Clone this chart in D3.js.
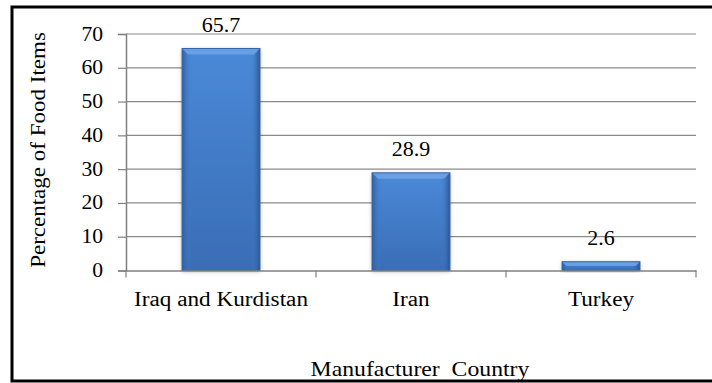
<!DOCTYPE html>
<html>
<head>
<meta charset="utf-8">
<script src="https://cdn.jsdelivr.net/npm/d3@7/dist/d3.min.js"></script>
<style>
  html, body { margin: 0; padding: 0; background: #fff; }
  svg { display: block; }
  svg text { font-family: "Liberation Serif", "Times New Roman", serif !important; fill: #000; }
</style>
</head>
<body>
<svg id="chart" width="712" height="383"></svg>
<script>
// Share of food items by manufacturer country
const categories = ["Iraq and Kurdistan", "Iran", "Turkey"];
const values = [65.7, 28.9, 2.6];
const yTicks = [0, 10, 20, 30, 40, 50, 60, 70];
const yTitle = "Percentage of Food Items";
const xTitle = "Manufacturer  Country";

const svg = d3.select("#chart");
const W = 712;
const plot = { left: 126, right: 696, top: 34, bottom: 270.5 };
const stretch = 1.16;   // slightly wide lettering

const x = d3.scaleBand().domain(categories).range([plot.left, plot.right]).paddingInner(0.59).paddingOuter(0.295);
const y = d3.scaleLinear().domain([0, 70]).range([plot.bottom, plot.top]);

function widen(sel, k) {
  sel.each(function () {
    const len = this.getComputedTextLength();
    d3.select(this).attr("textLength", len * k).attr("lengthAdjust", "spacingAndGlyphs");
  });
}

// frame
svg.append("rect").attr("x", 12).attr("y", 7).attr("width", W + 10).attr("height", 374)
  .attr("fill", "#fff").attr("stroke", "#000").attr("stroke-width", 3);

const defs = svg.append("defs");
const grad = defs.append("linearGradient").attr("id", "barFill").attr("x1", 0).attr("x2", 0).attr("y1", 0).attr("y2", 1);
grad.append("stop").attr("offset", "0%").attr("stop-color", "#4a89d8");
grad.append("stop").attr("offset", "100%").attr("stop-color", "#3a6db5");
const side = defs.append("linearGradient").attr("id", "barSide").attr("x1", 0).attr("x2", 1);
side.append("stop").attr("offset", "0%").attr("stop-color", "#2f5e9e");
side.append("stop").attr("offset", "12%").attr("stop-color", "#4582cf").attr("stop-opacity", 0);
side.append("stop").attr("offset", "88%").attr("stop-color", "#4582cf").attr("stop-opacity", 0);
side.append("stop").attr("offset", "100%").attr("stop-color", "#2a5593");
const shadow = defs.append("filter").attr("id", "shadow").attr("x", "-20%").attr("y", "-20%").attr("width", "140%").attr("height", "140%");
shadow.append("feDropShadow").attr("dx", 0).attr("dy", 1).attr("stdDeviation", 2).attr("flood-color", "#000").attr("flood-opacity", 0.3);

// gridlines
svg.append("g").selectAll("line").data(yTicks.filter(d => d > 0)).join("line")
  .attr("x1", plot.left).attr("x2", plot.right)
  .attr("y1", d => y(d)).attr("y2", d => y(d))
  .attr("stroke", "#8a8a8a").attr("stroke-width", 1.2);

// y axis
const yAxis = svg.append("g").attr("transform", `translate(${plot.left},0)`)
  .call(d3.axisLeft(y).tickValues(yTicks).tickSize(8).tickPadding(15));
yAxis.select(".domain").attr("stroke", "#808080").attr("stroke-width", 1.5);
yAxis.selectAll(".tick line").attr("stroke", "#808080").attr("stroke-width", 1.2);
yAxis.selectAll(".tick text").attr("font-size", 20).attr("dy", "0.3em").call(widen, 1.08);

// bars
const bars = svg.append("g");
categories.forEach((c, i) => {
  const bx = x(c), bw = x.bandwidth(), by = y(values[i]), bh = y(0) - y(values[i]);
  const g = bars.append("g");
  g.append("rect").attr("x", bx).attr("y", by).attr("width", bw).attr("height", bh)
    .attr("fill", "url(#barFill)").attr("filter", "url(#shadow)");
  g.append("rect").attr("x", bx).attr("y", by).attr("width", bw).attr("height", bh)
    .attr("fill", "url(#barSide)");
  const bev = Math.min(6, bh / 2);
  g.append("path")
    .attr("d", `M${bx},${by}L${bx + bw},${by}L${bx + bw - bev},${by + bev}L${bx + bev},${by + bev}Z`)
    .attr("fill", "#6ea4e8").attr("opacity", 0.85);
  g.append("rect").attr("x", bx).attr("y", by).attr("width", bw).attr("height", bh)
    .attr("fill", "none").attr("stroke", "#3565a6").attr("stroke-width", 1);
});

// value labels
svg.append("g").selectAll("text").data(values).join("text")
  .attr("x", (d, i) => x(categories[i]) + x.bandwidth() / 2)
  .attr("y", d => y(d) - 16.5)
  .attr("text-anchor", "middle").attr("font-size", 20)
  .text(d => d.toFixed(1))
  .call(widen, 1.1);

// x axis
const xAxis = svg.append("g").attr("transform", `translate(0,${plot.bottom})`)
  .call(d3.axisBottom(x).tickSize(0).tickPadding(0));
xAxis.select(".domain").attr("stroke", "#808080").attr("stroke-width", 1.5);
xAxis.selectAll(".tick text").attr("font-size", 20).attr("dy", null).attr("y", 35.5).call(widen, stretch);
// category separators
const seps = d3.range(categories.length + 1).map(i => plot.left + i * x.step());
svg.append("g").selectAll("line").data(seps).join("line")
  .attr("x1", d => d).attr("x2", d => d)
  .attr("y1", plot.bottom).attr("y2", plot.bottom + 7)
  .attr("stroke", "#808080").attr("stroke-width", 1.2);

// axis titles
svg.append("text").attr("transform", `translate(45,150) rotate(-90)`)
  .attr("text-anchor", "middle").attr("font-size", 20).text(yTitle).call(widen, 1.15);
svg.append("text").attr("x", 420).attr("y", 376).attr("text-anchor", "middle")
  .attr("font-size", 21).attr("xml:space", "preserve").style("white-space", "pre").text(xTitle)
  .call(widen, 1.13);
</script>
</body>
</html>
